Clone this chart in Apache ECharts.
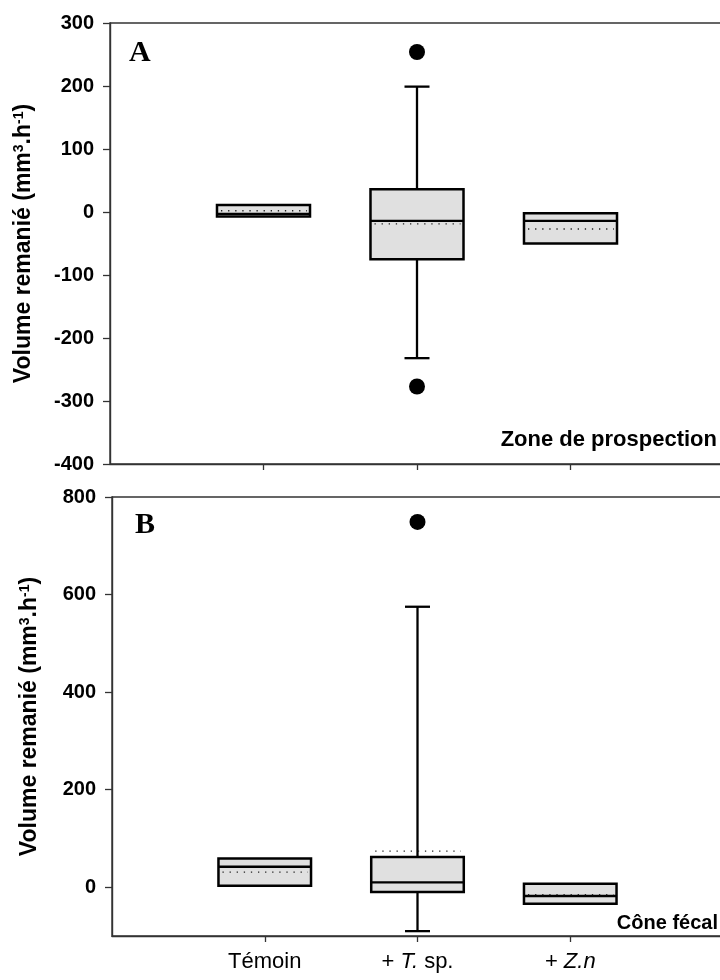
<!DOCTYPE html>
<html>
<head>
<meta charset="utf-8">
<script src="https://cdn.jsdelivr.net/npm/echarts@6/dist/echarts.min.js"></script>
<style>
html,body{margin:0;padding:0;background:#fff;}
#chart{width:720px;height:980px;}
</style>
</head>
<body>
<div id="chart"></div>
<script>
// ---- categories / positions ----
const categories = ['Témoin', '+ T. sp.', '+ Z.n'];
const xPositions = [1, 2, 3];

// ---- Panel A : Zone de prospection ----
const aLow    = [-7, -232, -50];
const aQ1     = [-7, -75, -50];
const aMedian = [-3, -14, -14];
const aQ3     = [11, 36, -2];
const aHigh   = [11, 199, -2];
const aMean   = [2, -19, -27];
const aOutliers = [[2, 254], [2, -277]];
const aTicks = [-400, -300, -200, -100, 0, 100, 200, 300];

// ---- Panel B : Cône fécal ----
const bLow    = [3, -90, -34];
const bQ1     = [3, -10, -34];
const bMedian = [42, 10, -18];
const bQ3     = [59, 62, 7];
const bHigh   = [59, 575, 7];
const bMean   = [31, 74, -15];
const bOutliers = [[2, 749]];
const bTicks = [0, 200, 400, 600, 800];

const FONT = "'Liberation Sans', Arial, sans-serif";

function boxData(low, q1, med, q3, high, mean) {
  return xPositions.map((x, i) => [x, low[i], q1[i], med[i], q3[i], high[i], mean[i]]);
}

function renderBox(params, api) {
  const x = api.value(0);
  const low = api.value(1), q1 = api.value(2), med = api.value(3),
        q3 = api.value(4), high = api.value(5), mean = api.value(6);
  const unit = api.size([1, 0])[0];
  const halfW = unit * 0.303;
  const capHalf = 12.5;
  const cx = api.coord([x, 0])[0];
  const yLow = api.coord([x, low])[1];
  const yQ1 = api.coord([x, q1])[1];
  const yMed = api.coord([x, med])[1];
  const yQ3 = api.coord([x, q3])[1];
  const yHigh = api.coord([x, high])[1];
  const yMean = api.coord([x, mean])[1];
  const children = [];
  const lineStyle = {stroke: '#000', lineWidth: 2.3};
  if (high > q3) {
    children.push({type: 'line', shape: {x1: cx, y1: yQ3, x2: cx, y2: yHigh}, style: lineStyle});
    children.push({type: 'line', shape: {x1: cx - capHalf, y1: yHigh, x2: cx + capHalf, y2: yHigh}, style: lineStyle});
  }
  if (low < q1) {
    children.push({type: 'line', shape: {x1: cx, y1: yQ1, x2: cx, y2: yLow}, style: lineStyle});
    children.push({type: 'line', shape: {x1: cx - capHalf, y1: yLow, x2: cx + capHalf, y2: yLow}, style: lineStyle});
  }
  children.push({type: 'rect', shape: {x: cx - halfW, y: yQ3, width: 2 * halfW, height: yQ1 - yQ3},
    style: {fill: '#e0e0e0', stroke: '#000', lineWidth: 2.5}});
  children.push({type: 'line', shape: {x1: cx - halfW, y1: yMed, x2: cx + halfW, y2: yMed}, style: lineStyle});
  children.push({type: 'line', shape: {x1: cx - halfW + 4, y1: yMean, x2: cx + halfW - 3, y2: yMean},
    style: {stroke: '#222', lineWidth: 1.3, lineDash: [1.3, 5.8]}});
  return {type: 'group', children: children};
}

const yName = 'Volume remanié (mm{sup|3}.h{sup|-1})';
const nameStyle = {
  fontFamily: FONT, fontWeight: 'bold', fontSize: 23, color: '#000',
  rich: {sup: {fontFamily: FONT, fontWeight: 'bold', fontSize: 14, color: '#000', verticalAlign: 'top'}}
};
const axisLineStyle = {show: true, onZero: false, lineStyle: {color: '#333', width: 1.4}};
const tickStyle = {show: true, length: 7, lineStyle: {color: '#333', width: 1.3}};
const labelStyle = {fontFamily: FONT, fontWeight: 'bold', fontSize: 20, color: '#000', margin: 16};

const option = {
  animation: false,
  backgroundColor: '#fff',
  grid: [
    {left: 110, top: 23, width: 614, height: 441, show: true, borderColor: '#333', borderWidth: 1.4, outerBoundsMode: 'none'},
    {left: 112, top: 497, width: 611, height: 439, show: true, borderColor: '#333', borderWidth: 1.4, outerBoundsMode: 'none'}
  ],
  xAxis: [
    {gridIndex: 0, type: 'value', min: 0, max: 4, splitLine: {show: false},
     axisLine: axisLineStyle,
     axisTick: Object.assign({}, tickStyle, {length: 6, customValues: xPositions}),
     axisLabel: {show: false}},
    {gridIndex: 1, type: 'value', min: 0, max: 4, splitLine: {show: false},
     axisLine: axisLineStyle,
     axisTick: Object.assign({}, tickStyle, {length: 6, customValues: xPositions}),
     axisLabel: {
       customValues: xPositions, margin: 15,
       fontFamily: FONT, fontSize: 22, color: '#000',
       formatter: function (v) {
         const c = categories[Math.round(v) - 1];
         if (c === '+ T. sp.') return '+ {i|T.} sp.';
         if (c === '+ Z.n') return '+ {i|Z.n}';
         return c;
       },
       rich: {i: {fontFamily: FONT, fontSize: 22, fontStyle: 'italic', color: '#000'}}
     }}
  ],
  yAxis: [
    {gridIndex: 0, type: 'value', min: -400, max: 300, interval: 100, splitLine: {show: false},
     axisLine: axisLineStyle, axisTick: tickStyle, axisLabel: labelStyle,
     name: yName, nameLocation: 'middle', nameGap: 75, nameTextStyle: nameStyle},
    {gridIndex: 1, type: 'value', min: -100, max: 800, splitLine: {show: false},
     axisLine: axisLineStyle,
     axisTick: Object.assign({}, tickStyle, {customValues: bTicks}),
     axisLabel: Object.assign({}, labelStyle, {customValues: bTicks}),
     name: yName, nameLocation: 'middle', nameGap: 71, nameTextStyle: nameStyle}
  ],
  series: [
    {type: 'custom', xAxisIndex: 0, yAxisIndex: 0, renderItem: renderBox, clip: false,
     encode: {x: 0, y: [1, 2, 3, 4, 5, 6]},
     data: boxData(aLow, aQ1, aMedian, aQ3, aHigh, aMean)},
    {type: 'scatter', xAxisIndex: 0, yAxisIndex: 0, symbol: 'circle', symbolSize: 16,
     itemStyle: {color: '#000', opacity: 1}, data: aOutliers},
    {type: 'custom', xAxisIndex: 1, yAxisIndex: 1, renderItem: renderBox, clip: false,
     encode: {x: 0, y: [1, 2, 3, 4, 5, 6]},
     data: boxData(bLow, bQ1, bMedian, bQ3, bHigh, bMean)},
    {type: 'scatter', xAxisIndex: 1, yAxisIndex: 1, symbol: 'circle', symbolSize: 16,
     itemStyle: {color: '#000', opacity: 1}, data: bOutliers}
  ],
  graphic: [
    {type: 'text', left: 129, top: 38, style: {text: 'A', font: "bold 30px 'Liberation Serif', 'Times New Roman', serif", fill: '#000'}},
    {type: 'text', left: 135, top: 510, style: {text: 'B', font: "bold 30px 'Liberation Serif', 'Times New Roman', serif", fill: '#000'}},
    {type: 'text', right: 3, top: 429, style: {text: 'Zone de prospection', font: "bold 22px 'Liberation Sans', Arial, sans-serif", fill: '#000'}},
    {type: 'text', right: 2, top: 913, style: {text: 'Cône fécal', font: "bold 20px 'Liberation Sans', Arial, sans-serif", fill: '#000'}}
  ]
};

const chart = echarts.init(document.getElementById('chart'), null, {renderer: 'canvas'});
chart.setOption(option);
</script>
</body>
</html>
